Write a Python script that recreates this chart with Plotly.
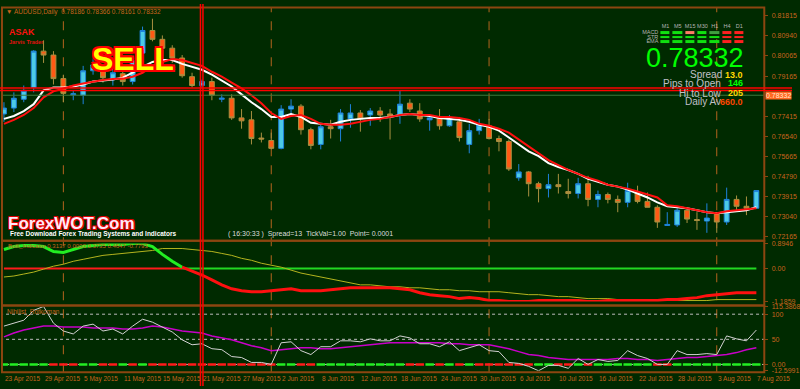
import plotly.graph_objects as go

W, H = 800, 389

# ---------------- data ----------------
bar_idx = list(range(77))

open_ = [0.77513,0.77771,0.78157,0.78671,0.80259,0.80087,0.79058,0.78350,0.78328,0.79401,
         0.79401,0.79015,0.79272,0.78929,0.80173,0.81160,0.80774,0.80387,0.79958,0.79143,
         0.78757,0.78929,0.78157,0.78200,0.77342,0.77256,0.76462,0.76355,0.76012,0.77728,
         0.77856,0.76827,0.76183,0.76955,0.76870,0.77299,0.77556,0.77470,0.77642,0.77513,
         0.77470,0.77985,0.77642,0.77256,0.77342,0.76998,0.77170,0.76183,0.76784,0.76998,
         0.76441,0.76312,0.74725,0.74982,0.74467,0.74253,0.74424,0.74124,0.74038,0.74467,
         0.73781,0.73995,0.73781,0.73652,0.74081,0.73695,0.73438,0.72644,0.72665,0.73309,
         0.72901,0.72837,0.73180,0.72794,0.73781,0.73481,0.73395]
high = [0.78028,0.78457,0.78757,0.80302,0.80731,0.80259,0.79229,0.78543,0.79615,0.80044,
        0.79615,0.79658,0.79444,0.79958,0.81331,0.81674,0.80945,0.80516,0.80087,0.79315,
        0.79015,0.79100,0.78371,0.78371,0.77728,0.77642,0.76698,0.76698,0.77899,0.78157,
        0.77942,0.76913,0.77084,0.77256,0.77728,0.77942,0.77685,0.77771,0.77813,0.77728,
        0.78543,0.78157,0.77985,0.77470,0.77728,0.77470,0.77384,0.77084,0.77299,0.77299,
        0.76569,0.76398,0.75325,0.75025,0.74553,0.74896,0.74896,0.74682,0.74725,0.74810,
        0.74167,0.74081,0.73952,0.74510,0.74381,0.74081,0.73523,0.73223,0.73395,0.73438,
        0.73223,0.73609,0.73223,0.74296,0.73952,0.73910,0.74167]
low = [0.77170,0.77599,0.78028,0.78457,0.79744,0.78800,0.78028,0.78114,0.77942,0.79229,
       0.78886,0.78757,0.78757,0.78800,0.80044,0.80688,0.80259,0.79744,0.79100,0.78671,
       0.78629,0.78114,0.78028,0.77256,0.76870,0.76183,0.76269,0.75969,0.75969,0.77513,
       0.76612,0.75969,0.75969,0.76441,0.76312,0.76913,0.76741,0.76998,0.77170,0.76398,
       0.77084,0.77599,0.77170,0.76784,0.76827,0.76955,0.76312,0.75797,0.76612,0.76398,
       0.75883,0.75025,0.74596,0.73910,0.73652,0.73867,0.74038,0.73824,0.73824,0.73481,
       0.73438,0.73609,0.73223,0.73438,0.73609,0.73438,0.72537,0.72623,0.72580,0.72751,
       0.72451,0.72322,0.72322,0.72665,0.73309,0.73094,0.73395]
close = [0.77771,0.78200,0.78543,0.80259,0.80087,0.79058,0.78414,0.78393,0.79401,0.79658,
         0.79100,0.79315,0.78929,0.79830,0.81160,0.80774,0.80387,0.79958,0.79186,0.78757,
         0.78929,0.78328,0.78200,0.77342,0.77213,0.76441,0.76419,0.76012,0.77728,0.77856,
         0.76827,0.76140,0.76955,0.76870,0.77556,0.77556,0.77299,0.77642,0.77470,0.77427,
         0.77942,0.77728,0.77299,0.77342,0.76998,0.77342,0.76484,0.76784,0.77041,0.76441,
         0.76312,0.75111,0.74982,0.74467,0.74253,0.74424,0.74339,0.74038,0.74467,0.73781,
         0.73995,0.73781,0.73652,0.74167,0.73695,0.73438,0.72794,0.72687,0.73309,0.72923,
         0.72859,0.72966,0.72794,0.73781,0.73481,0.73395,0.74167]

ma_fast = [0.77299,0.77427,0.77642,0.77942,0.78543,0.78671,0.78671,0.78714,0.78800,0.78929,
           0.78972,0.79015,0.79100,0.79315,0.79572,0.79787,0.79873,0.79873,0.79701,0.79572,
           0.79444,0.79229,0.78972,0.78714,0.78371,0.78028,0.77728,0.77384,0.77384,0.77513,
           0.77384,0.77127,0.77084,0.77041,0.77170,0.77256,0.77299,0.77342,0.77342,0.77384,
           0.77470,0.77513,0.77470,0.77427,0.77342,0.77299,0.77256,0.77170,0.77041,0.76955,
           0.76784,0.76484,0.76183,0.75883,0.75669,0.75368,0.75197,0.75068,0.74896,0.74682,
           0.74553,0.74424,0.74339,0.74210,0.74038,0.73867,0.73652,0.73481,0.73438,0.73395,
           0.73309,0.73223,0.73180,0.73223,0.73266,0.73309,0.73438]
ma_slow = [0.77084,0.77256,0.77470,0.77771,0.78243,0.78500,0.78629,0.78757,0.78843,0.78929,
           0.78993,0.79036,0.79058,0.79143,0.79315,0.79615,0.79787,0.79916,0.79873,0.79744,
           0.79615,0.79358,0.79143,0.78886,0.78629,0.78328,0.77985,0.77556,0.77299,0.77427,
           0.77470,0.77299,0.77084,0.77041,0.77041,0.77084,0.77170,0.77256,0.77299,0.77384,
           0.77470,0.77513,0.77470,0.77470,0.77384,0.77384,0.77342,0.77256,0.77084,0.76998,
           0.76870,0.76698,0.76398,0.76098,0.75797,0.75497,0.75282,0.75068,0.74896,0.74725,
           0.74596,0.74424,0.74339,0.74253,0.74124,0.73995,0.73867,0.73523,0.73481,0.73395,
           0.73309,0.73223,0.73180,0.73266,0.73309,0.73352,0.73395]

bid_price = 0.78332
price_ticks = [0.81815, 0.80940, 0.80065, 0.79165, 0.77415, 0.76540, 0.75665,
               0.74790, 0.73915, 0.73040, 0.72165]

# panel 2 (Bolli indicator)
osc_main = [0.6830,0.7888,0.8241,0.8241,0.7888,0.6125,0.5773,0.6830,0.7888,0.8241,
            0.8593,0.8593,0.8593,0.8946,0.8946,0.7888,0.5067,0.2599,0.0484,-0.0927,
            -0.2337,-0.4100,-0.5863,-0.7274,-0.7979,-0.8331,-0.8331,-0.7979,-0.7626,-0.7274,
            -0.7979,-0.7979,-0.7979,-0.7626,-0.7274,-0.6921,-0.6921,-0.6921,-0.6921,-0.6921,
            -0.7274,-0.7626,-0.8684,-0.9389,-0.9742,-1.0094,-1.0800,-1.0447,-1.0800,-1.1505,
            -1.1505,-1.1857,-1.1859,-1.1857,-1.1505,-1.1505,-1.1505,-1.1505,-1.1505,-1.1857,
            -1.1857,-1.1505,-1.1505,-1.1505,-1.1505,-1.1505,-1.1505,-1.1152,-1.1152,-1.0800,
            -1.0447,-0.9742,-0.9389,-0.9037,-0.8684,-0.8684,-0.8684]
osc_slow = [-0.3042,-0.2690,-0.1985,-0.1279,-0.0222,0.0836,0.1541,0.2599,0.3304,0.4010,
            0.4715,0.5067,0.5420,0.5773,0.6125,0.6478,0.7183,0.7183,0.7183,0.6830,
            0.6478,0.6125,0.5420,0.4715,0.3657,0.2952,0.1894,0.1189,0.0484,-0.0574,
            -0.1632,-0.2337,-0.3042,-0.3748,-0.4453,-0.5158,-0.5863,-0.5863,-0.6216,-0.6568,
            -0.6568,-0.6921,-0.6921,-0.7274,-0.7626,-0.7626,-0.7979,-0.7979,-0.8331,-0.8331,
            -0.8331,-0.8684,-0.9037,-0.9389,-0.9389,-0.9742,-1.0094,-1.0094,-1.0447,-1.0800,
            -1.0800,-1.0800,-1.1152,-1.1152,-1.1152,-1.1505,-1.1505,-1.1505,-1.1505,-1.1505,
            -1.1505,-1.1505,-1.1152,-1.1152,-1.1152,-1.1152,-1.1152]
osc_switch_idx = 18
osc_label = "Bolli_Indicator 0.3137 0.0000 0.3735 0.4647 -0.7793"
osc_ticks = [0.8946, 0.0, -1.1859]
osc_ticktext = ["0.8946", "0.00", "-1.1859"]

# panel 3 (Nihilist_Rotkoman)
rot_main = [76.31,82.17,88.03,107.57,115.39,82.17,66.54,60.68,76.31,80.21,
            66.54,70.45,60.68,76.31,89.98,84.12,74.35,64.58,48.95,39.18,
            41.13,31.36,29.41,15.73,13.78,4.01,4.01,0.10,43.09,45.04,
            27.45,19.64,35.27,35.27,46.99,46.99,45.04,50.90,46.99,46.99,
            56.77,52.86,41.13,41.13,35.27,45.04,27.45,33.32,39.18,27.45,
            25.50,4.01,2.05,-3.81,-12.60,-1.86,-1.86,-7.72,11.82,0.10,
            9.87,5.96,7.91,27.45,17.68,11.82,0.10,0.10,27.45,19.64,
            19.64,21.59,19.64,56.77,50.90,46.99,68.49]
rot_signal = [54.81,62.63,68.49,72.40,76.31,76.31,74.35,74.35,74.35,72.40,
              72.40,72.40,70.45,70.45,72.40,76.31,74.35,70.45,66.54,64.58,
              62.63,56.77,52.86,48.95,43.09,37.22,33.32,27.45,29.41,31.36,
              33.32,33.32,31.36,31.36,33.32,35.27,37.22,39.18,41.13,43.09,
              43.09,43.09,43.09,43.09,43.09,41.13,41.13,39.18,39.18,39.18,
              35.27,31.36,25.50,19.64,17.68,13.78,11.82,9.87,9.87,9.87,
              9.87,9.87,11.82,11.82,9.87,9.87,7.91,9.87,11.82,13.78,
              13.78,15.73,17.68,19.64,23.55,29.41,33.32]
rot_states = list("GGGGGRRRGGRRGRGRRRRRRRRRRRRRGGRRGGGGGGGGGRRGRGRGRRRRRRGGRRGRGGGGGGRRGGGGGGGGG")
rot_levels = [100, 50, 0]
rot_ticks = [115.3868, 100, 50, 0, -12.5991]
rot_ticktext = ["115.3868", "100", "50", "0.00", "-12.5991"]

# time axis
date_label_idx = [0, 4, 8, 12, 16, 20, 24, 28, 32, 36, 40, 44, 48, 52, 56, 60, 64, 68, 72, 76]
date_labels = ["23 Apr 2015", "29 Apr 2015", "5 May 2015", "11 May 2015", "15 May 2015",
               "21 May 2015", "27 May 2015", "2 Jun 2015", "8 Jun 2015", "12 Jun 2015",
               "18 Jun 2015", "24 Jun 2015", "30 Jun 2015", "6 Jul 2015", "10 Jul 2015",
               "16 Jul 2015", "22 Jul 2015", "28 Jul 2015", "3 Aug 2015", "7 Aug 2015"]
month_sep_idx = [6, 27, 49, 72]

# signal widget
timeframes = ["M1", "M5", "M15", "M30", "H1", "H4", "D1"]
widget_rows = ["MACD", "STR", "EMA"]
widget_state = [[0, 0, 2, 0, 1, 3, 3],
                [0, 0, 0, 0, 0, 3, 3],
                [0, 0, 0, 0, 0, 3, 3]]

# ---------------- style ----------------
BG = "#002a00"
BROWN = "#8c4610"
LBL = "#c8641e"
FONT = "Liberation Sans, Arial, sans-serif"


def px(x):
    return x / W


def py(y):
    return 1 - y / H


fig = go.Figure()

fig.add_trace(go.Candlestick(
    x=bar_idx, open=open_, high=high, low=low, close=close,
    increasing=dict(fillcolor="#4ccbe6", line=dict(color="#1e82dc", width=1)),
    decreasing=dict(fillcolor="#ff5a14", line=dict(color="#a89040", width=1)),
    whiskerwidth=0, xaxis="x", yaxis="y", showlegend=False, hoverinfo="skip"))
fig.add_trace(go.Scatter(x=bar_idx, y=ma_fast, mode="lines",
                         line=dict(color="#ffffff", width=2), xaxis="x", yaxis="y",
                         showlegend=False, hoverinfo="skip"))
fig.add_trace(go.Scatter(x=bar_idx, y=ma_slow, mode="lines",
                         line=dict(color="#ff1010", width=2), xaxis="x", yaxis="y",
                         showlegend=False, hoverinfo="skip"))

# panel 2
s = osc_switch_idx
fig.add_trace(go.Scatter(x=bar_idx[:s + 1], y=[0] * (s + 1), mode="lines",
                         line=dict(color="#ff1a1a", width=2), xaxis="x2", yaxis="y2",
                         showlegend=False, hoverinfo="skip"))
fig.add_trace(go.Scatter(x=bar_idx[s:], y=[0] * (len(bar_idx) - s), mode="lines",
                         line=dict(color="#22d822", width=2), xaxis="x2", yaxis="y2",
                         showlegend=False, hoverinfo="skip"))
fig.add_trace(go.Scatter(x=bar_idx, y=osc_slow, mode="lines",
                         line=dict(color="#b4b41e", width=1), xaxis="x2", yaxis="y2",
                         showlegend=False, hoverinfo="skip"))
fig.add_trace(go.Scatter(x=bar_idx[:s + 1], y=osc_main[:s + 1], mode="lines",
                         line=dict(color="#22ee22", width=3), xaxis="x2", yaxis="y2",
                         showlegend=False, hoverinfo="skip"))
fig.add_trace(go.Scatter(x=bar_idx[s:], y=osc_main[s:], mode="lines",
                         line=dict(color="#ff1010", width=3), xaxis="x2", yaxis="y2",
                         showlegend=False, hoverinfo="skip"))

# panel 3
for lvl in rot_levels:
    fig.add_trace(go.Scatter(x=[bar_idx[0] - 1, bar_idx[-1] + 1], y=[lvl, lvl], mode="lines",
                             line=dict(color="#bcbcbc", width=1, dash="dot"),
                             xaxis="x3", yaxis="y3", showlegend=False, hoverinfo="skip"))
fig.add_trace(go.Scatter(x=bar_idx, y=[0] * len(bar_idx), mode="markers",
                         marker=dict(symbol="line-ew", size=6,
                                     line=dict(width=2.5, color=["#22ee22" if c == "G" else "#ff1a1a"
                                                                 for c in rot_states])),
                         xaxis="x3", yaxis="y3", showlegend=False, hoverinfo="skip"))
fig.add_trace(go.Scatter(x=bar_idx, y=rot_signal, mode="lines",
                         line=dict(color="#c800c8", width=1.5), xaxis="x3", yaxis="y3",
                         showlegend=False, hoverinfo="skip"))
fig.add_trace(go.Scatter(x=bar_idx, y=rot_main, mode="lines",
                         line=dict(color="#d2d2d2", width=1), xaxis="x3", yaxis="y3",
                         showlegend=False, hoverinfo="skip"))

# widget
fig.add_trace(go.Heatmap(
    z=widget_state, x=list(range(len(timeframes))), y=list(range(len(widget_rows))),
    xaxis="x4", yaxis="y4", zmin=0, zmax=3, showscale=False, xgap=3, ygap=2,
    colorscale=[[0, "#10e010"], [1 / 3, "#3f9f3f"], [2 / 3, "#ff7a66"], [1, "#ff2020"]],
    hoverinfo="skip"))

xcommon = dict(range=[-0.2, 76.8], domain=[px(2), px(772)], showgrid=False, zeroline=False,
               showticklabels=False, ticks="", fixedrange=True)
tickfont = dict(size=7, color=LBL, family=FONT)
ycommon = dict(side="right", ticks="outside", ticklen=3, tickcolor=BROWN, tickfont=tickfont,
               showgrid=False, zeroline=False, fixedrange=True, ticklabelstandoff=2)

fig.update_layout(
    width=W, height=H, margin=dict(l=0, r=0, t=0, b=0),
    paper_bgcolor=BG, plot_bgcolor="rgba(0,0,0,0)", hovermode=False,
    font=dict(family=FONT),
    xaxis=dict(xcommon, anchor="y", rangeslider=dict(visible=False)),
    xaxis2=dict(xcommon, anchor="y2", matches="x"),
    xaxis3=dict(xcommon, anchor="y3", matches="x"),
    yaxis=dict(ycommon, domain=[py(240), py(4)], range=[0.72022, 0.82146], anchor="x",
               tickvals=price_ticks, ticktext=[f"{v:.5f}" for v in price_ticks]),
    yaxis2=dict(ycommon, domain=[py(303), py(244)], range=[-1.1859, 0.8946], anchor="x2",
                tickvals=osc_ticks, ticktext=osc_ticktext),
    yaxis3=dict(ycommon, domain=[py(373.5), py(308)], range=[-12.5991, 115.3868], anchor="x3",
                tickvals=rot_ticks, ticktext=rot_ticktext),
    xaxis4=dict(domain=[px(666), px(753)], anchor="y4", side="top", range=[-0.5, 6.5],
                tickvals=list(range(len(timeframes))), ticktext=timeframes, tickangle=0,
                tickfont=dict(size=5.5, color="#b4b4b4", family=FONT), showgrid=False,
                zeroline=False, ticks="", fixedrange=True),
    yaxis4=dict(domain=[py(40.5), py(26.5)], anchor="x4", range=[2.5, -0.5],
                tickvals=list(range(len(widget_rows))), ticktext=widget_rows,
                tickfont=dict(size=5.5, color="#b4b4b4", family=FONT), showgrid=False,
                zeroline=False, ticks="", fixedrange=True),
)

shapes = []
# month separators
for m in month_sep_idx:
    shapes.append(dict(type="line", xref="x", yref="paper", x0=m, x1=m, y0=py(375), y1=py(4),
                       line=dict(color="#b4641e", width=1, dash="dash"), layer="below"))
# bid line
shapes.append(dict(type="line", xref="paper", yref="y", x0=px(2), x1=px(772), y0=bid_price,
                   y1=bid_price, line=dict(color="#3c783c", width=1)))
# panel frames
for y0, y1 in [(3.5, 241), (241, 307), (307, 375)]:
    shapes.append(dict(type="rect", xref="paper", yref="paper", x0=px(2), x1=px(772),
                       y0=py(y1), y1=py(y0), line=dict(color=BROWN, width=2)))
# red marker lines (vertical / horizontal doubles)
for xv in [202.5, 205.0]:
    shapes.append(dict(type="line", xref="paper", yref="paper", x0=px(xv), x1=px(xv), y0=0, y1=1,
                       line=dict(color="#ff0000", width=1.5)))
for yv in [85.5, 88.0]:
    shapes.append(dict(type="line", xref="paper", yref="paper", x0=0, x1=1, y0=py(yv), y1=py(yv),
                       line=dict(color="#ff0000", width=1.5)))
fig.update_layout(shapes=shapes)

ann = []


def add_text(x, y, text, size, color, anchor="left", weight="normal", family=FONT, shadow=None, **kw):
    f = dict(size=size, color=color, family=family, weight=weight)
    if shadow:
        f["shadow"] = shadow
    d = dict(xref="paper", yref="paper", x=px(x), y=py(y), text=text, showarrow=False,
             xanchor=anchor, yanchor="middle", font=f)
    d.update(kw)
    ann.append(d)


for i, lab in zip(date_label_idx, date_labels):
    ann.append(dict(xref="x", yref="paper", x=i - 0.1, y=py(381.5), text=lab, showarrow=False,
                    xanchor="left", yanchor="middle", font=dict(size=6.5, color=LBL, family=FONT)))

ann.append(dict(xref="paper", yref="y", x=px(773), y=bid_price, text="0.78332", showarrow=False,
                xanchor="left", yanchor="middle", bgcolor="#ff6820", borderpad=0,
                font=dict(size=7, color="#ffe8d0", family=FONT)))

add_text(4, 8, "▼ AUDUSD,Daily  0.78186 0.78366 0.78161 0.78332", 6.5, LBL)
add_text(7, 28.5, "ASAK", 9, "#ff1010", weight="bold")
add_text(7, 39, "Jarvis Trader", 5.5, "#e01010", weight="bold")
outline = ", ".join(f"{a}px {b}px 0 #ff0000" for a, b in
                    [(-2, -2), (2, -2), (-2, 2), (2, 2), (0, 2), (0, -2), (2, 0), (-2, 0)])
add_text(134, 56, "SELL", 32, "#ffff00", anchor="center", weight="bold",
         family="Liberation Sans Narrow, Arial Narrow, Liberation Sans, Arial", shadow=outline)
pink_outline = ", ".join(f"{a}px {b}px 0 #e00000" for a, b in [(-1, -1), (1, -1), (-1, 1), (1, 1)])
add_text(6, 224, "ForexWOT.Com", 17, "#ffe8f8", weight="bold", shadow=pink_outline)
add_text(8, 234.5, "Free Download Forex Trading Systems and Indicators", 6.5, "#ffffff", weight="bold")
add_text(228, 234, "( 16:30:33 )  Spread=13  TickVal=1.00  Point= 0.0001", 7, "#dcdcdc")
add_text(6, 246.5, osc_label, 6, LBL)
add_text(5, 313.5, "Nihilist_Rotkoman", 6.5, LBL)

add_text(754, 55, "0.78332", 27, "#00ff00", anchor="right")
add_text(731, 72, "Spread", 10, "#c0c0c8", anchor="right")
add_text(753, 72, "13.0", 9, "#ffd700", anchor="right", weight="bold")
add_text(730, 80.5, "Pips to Open", 10, "#c0c0c8", anchor="right")
add_text(753, 80.5, "146", 9, "#00ff00", anchor="right", weight="bold")
add_text(730, 91, "Hi to Low", 10, "#c0c0c8", anchor="right")
add_text(753, 91, "205", 9, "#ffd700", anchor="right", weight="bold")
add_text(730, 99.5, "Daily Av", 10, "#c0c0c8", anchor="right")
add_text(753, 99.5, "660.0", 9, "#ff4500", anchor="right", weight="bold")

fig.update_layout(annotations=ann)

fig.write_html("out.html", config={"displayModeBar": False},
               post_script="document.body.style.margin='0';document.body.style.padding='0';")
